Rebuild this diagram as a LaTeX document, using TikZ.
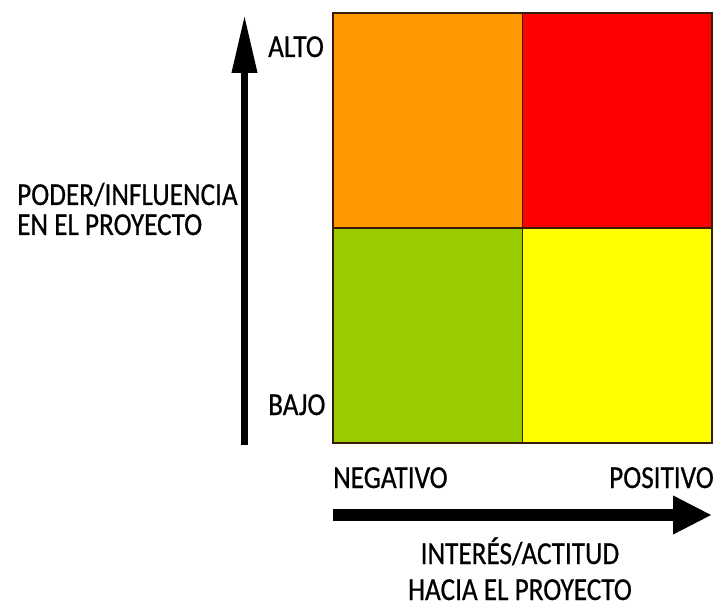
\documentclass[tikz,border=0pt]{standalone}
\usepackage{fontspec}
\setmainfont{Carlito}[FakeStretch=0.85,FakeBold=0.6]
\usetikzlibrary{arrows.meta,positioning}

\definecolor{naranja}{HTML}{FF9900}
\definecolor{rojo}{HTML}{FF0000}
\definecolor{verde}{HTML}{99CC00}
\definecolor{amarillo}{HTML}{FFFF00}
\definecolor{borde}{HTML}{3A1A0A}

\tikzset{
	cuadro/.style={draw=borde, line width=1.8pt, minimum width=189.5pt,
		minimum height=215pt, inner sep=0pt, outer sep=0pt},
	etiqueta/.style={font=\fontsize{32}{30}\selectfont, inner sep=0pt},
	eje/.style={line width=7pt}
}

\begin{document}
\begin{tikzpicture}[x=1pt,y=-1pt]
\useasboundingbox (0,0) rectangle (715,612);

% cuadrantes
\node[cuadro, fill=naranja, anchor=north west] (altoneg) at (333,13) {};
\node[cuadro, fill=rojo, right=0pt of altoneg] (altopos) {};
\node[cuadro, fill=verde, below=0pt of altoneg] (bajoneg) {};
\node[cuadro, fill=amarillo, right=0pt of bajoneg] (bajopos) {};

% ejes
\coordinate (poderini) at (244.5,445);
\coordinate (poderfin) at (244.5,15);
\coordinate (interesini) at (333,515);
\coordinate (interesfin) at (712,515);
\draw[eje, -{Triangle[length=58pt, width=24pt]}] (poderini) -- (poderfin);
\draw[eje, line width=12pt, -{Triangle[length=39pt, width=36pt]}] (interesini) -- (interesfin);

% etiquetas
\node[etiqueta, anchor=base west] (alto) at (268,57) {ALTO};
\node[etiqueta, anchor=base west] (bajo) at (268,415) {BAJO};
\node[etiqueta, anchor=base west] (negativo) at (333,488) {NEGATIVO};
\node[etiqueta, anchor=base east] (positivo) at (714,488) {POSITIVO};
\node[etiqueta, anchor=base west, align=left] (poder) at (17,235)
	{PODER/INFLUENCIA\\EN EL PROYECTO};
\node[etiqueta, anchor=base, align=center,
	font=\fontsize{32}{36}\selectfont] (interes) at (520,600)
	{INTERÉS/ACTITUD\\HACIA EL PROYECTO};

\end{tikzpicture}
\end{document}
